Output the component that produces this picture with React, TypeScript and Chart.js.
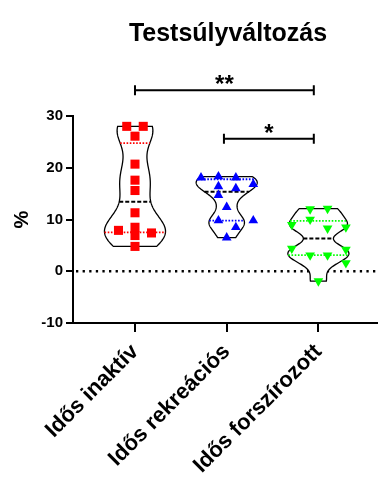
import { useEffect, useRef } from 'react';
import { Chart, registerables } from 'chart.js';

Chart.register(...registerables);

const FONT = "'Liberation Sans', Arial, Helvetica, sans-serif";

const titleText = 'Testsúlyváltozás';
const yAxisTitle = '%';
const categories = ['Idős inaktív', 'Idős rekreációs', 'Idős forszírozott'];
const yTicks = [-10, 0, 10, 20, 30];

// Idős inaktív (red squares)
const inaktivValues = [28.0, 28.0, 26.1, 20.7, 17.6, 15.6, 11.3, 7.9, 8.5, 6.9, 7.4, 4.8];
const inaktivJitter = [-0.09, 0.09, 0, 0, 0, 0, 0, -0.18, 0, 0, 0.18, 0];

// Idős rekreációs (blue triangles)
const rekreaciosValues = [18.1, 18.3, 18.1, 16.8, 16.4, 16.0, 14.7, 12.4, 9.8, 9.8, 8.5, 6.5];
const rekreaciosJitter = [-0.28, -0.09, 0.1, 0.29, -0.09, 0.1, -0.09, 0, -0.09, 0.29, 0.1, 0];

// Idős forszírozott (green inverted triangles)
const forszirozottValues = [12.0, 12.1, 9.0, 10.0, 8.3, 8.5, 4.4, 3.1, 3.1, 4.2, 1.6, -1.9];
const forszirozottJitter = [-0.09, 0.1, -0.29, -0.09, 0.1, 0.3, -0.29, -0.09, 0.1, 0.3, 0.3, 0];

// significance brackets (category units / value units)
const bracketFrom = [0, 0.97];
const bracketTo = [1.95, 1.95];
const bracketLevel = [35, 25.6];
const bracketLabels = ['**', '*'];

const groups = [
  { values: inaktivValues, jitter: inaktivJitter, color: '#ff0000', style: 'rect', radius: 6.4, rotation: 0 },
  { values: rekreaciosValues, jitter: rekreaciosJitter, color: '#0000ff', style: 'triangle', radius: 5.6, rotation: 0 },
  { values: forszirozottValues, jitter: forszirozottJitter, color: '#00ff00', style: 'triangle', radius: 5.6, rotation: 180 },
];

const VIOLIN_HALF = 0.333; // max half width in category units
const BW_FACTOR = 0.34;

function stdev(a: number[]) {
  const m = a.reduce((s, v) => s + v, 0) / a.length;
  return Math.sqrt(a.reduce((s, v) => s + (v - m) * (v - m), 0) / (a.length - 1));
}
function kde(a: number[], h: number, t: number) {
  return a.reduce((s, v) => s + Math.exp(-((t - v) * (t - v)) / (2 * h * h)), 0);
}
function percentile(a: number[], p: number) {
  const s = [...a].sort((x, y) => x - y);
  const pos = (s.length + 1) * p - 1;
  const lo = Math.max(0, Math.min(s.length - 1, Math.floor(pos)));
  const hi = Math.min(s.length - 1, lo + 1);
  const f = pos - Math.floor(pos);
  return s[lo] + (s[hi] - s[lo]) * f;
}

const zeroMargins = (s: any, keys: string[]) => {
  keys.forEach((k) => {
    s['padding' + k[0].toUpperCase() + k.slice(1)] = 0;
    if (s._margins) s._margins[k] = 0;
  });
};

const violinPlugin = {
  id: 'violinPlugin',
  beforeDatasetsDraw(chart: any) {
    const { ctx, chartArea: ca, scales } = chart;
    const xs = scales.x;
    const ys = scales.y;
    ctx.save();
    // zero line
    const y0 = ys.getPixelForValue(0);
    ctx.strokeStyle = '#000';
    ctx.lineWidth = 2.3;
    ctx.setLineDash([2.3, 4.3]);
    ctx.beginPath();
    ctx.moveTo(ca.left + 3, y0);
    ctx.lineTo(ca.right, y0);
    ctx.stroke();
    ctx.setLineDash([]);

    groups.forEach((g, i) => {
      const vals = g.values;
      const min = Math.min(...vals);
      const max = Math.max(...vals);
      const h = BW_FACTOR * stdev(vals);
      const N = 150;
      const prof: number[][] = [];
      for (let k = 0; k <= N; k++) {
        const t = min + ((max - min) * k) / N;
        prof.push([t, kde(vals, h, t)]);
      }
      const dmax = Math.max(...prof.map((p) => p[1]));
      const half = (t: number) => (VIOLIN_HALF * kde(vals, h, t)) / dmax;
      ctx.beginPath();
      prof.forEach(([t, d], k) => {
        const px = xs.getPixelForValue(i - (VIOLIN_HALF * d) / dmax);
        const py = ys.getPixelForValue(t);
        if (k === 0) ctx.moveTo(px, py);
        else ctx.lineTo(px, py);
      });
      for (let k = prof.length - 1; k >= 0; k--) {
        const [t, d] = prof[k];
        ctx.lineTo(xs.getPixelForValue(i + (VIOLIN_HALF * d) / dmax), ys.getPixelForValue(t));
      }
      ctx.closePath();
      ctx.fillStyle = '#fff';
      ctx.fill();
      ctx.strokeStyle = '#000';
      ctx.lineWidth = 1.3;
      ctx.stroke();

      const drawLevel = (v: number, color: string, dash: number[], lw: number) => {
        const w = half(v);
        const py = ys.getPixelForValue(v);
        ctx.strokeStyle = color;
        ctx.lineWidth = lw;
        ctx.setLineDash(dash);
        ctx.beginPath();
        ctx.moveTo(xs.getPixelForValue(i - w), py);
        ctx.lineTo(xs.getPixelForValue(i + w), py);
        ctx.stroke();
        ctx.setLineDash([]);
      };
      drawLevel(percentile(vals, 0.25), g.color, [1.6, 1.6], 1.8);
      drawLevel(percentile(vals, 0.75), g.color, [1.6, 1.6], 1.8);
      drawLevel(percentile(vals, 0.5), '#000', [4, 2], 2);
    });
    ctx.restore();
  },
  afterDraw(chart: any) {
    const { ctx, scales } = chart;
    const xs = scales.x;
    const ys = scales.y;
    ctx.save();
    // title
    ctx.fillStyle = '#000';
    ctx.font = `bold 25px ${FONT}`;
    ctx.textAlign = 'center';
    ctx.textBaseline = 'middle';
    ctx.fillText(titleText, 228, 34);

    // brackets
    bracketLabels.forEach((lab, k) => {
      const x1 = xs.getPixelForValue(bracketFrom[k]);
      const x2 = xs.getPixelForValue(bracketTo[k]);
      const y = ys.getPixelForValue(bracketLevel[k]);
      ctx.strokeStyle = '#000';
      ctx.lineWidth = 2;
      ctx.beginPath();
      ctx.moveTo(x1, y);
      ctx.lineTo(x2, y);
      ctx.moveTo(x1, y - 5);
      ctx.lineTo(x1, y + 5);
      ctx.moveTo(x2, y - 5);
      ctx.lineTo(x2, y + 5);
      ctx.stroke();
      ctx.font = `bold 24px ${FONT}`;
      ctx.textAlign = 'center';
      ctx.textBaseline = 'alphabetic';
      ctx.fillText(lab, (x1 + x2) / 2, y + 2);
    });
    ctx.restore();
  },
};

export default function App() {
  const ref = useRef<HTMLCanvasElement | null>(null);
  useEffect(() => {
    document.body.style.margin = '0';
    const canvas = ref.current;
    if (!canvas) return;
    Chart.defaults.font.family = FONT;
    const chart = new Chart(canvas, {
      type: 'scatter',
      data: {
        datasets: groups.map((g, i) => ({
          label: categories[i],
          data: g.values.map((v, k) => ({ x: i + g.jitter[k], y: v })),
          pointStyle: g.style as any,
          pointRadius: g.radius,
          pointHoverRadius: g.radius,
          pointRotation: g.rotation,
          backgroundColor: g.color,
          borderColor: g.color,
          borderWidth: 0,
          showLine: false,
        })),
      },
      options: {
        responsive: false,
        animation: false,
        devicePixelRatio: 1,
        layout: { autoPadding: false, padding: { top: 116, right: 0, left: 0, bottom: 0 } },
        plugins: {
          legend: { display: false },
          tooltip: { enabled: false },
          title: { display: false },
        },
        scales: {
          x: {
            type: 'linear',
            min: -0.676,
            max: 2.65,
            afterBuildTicks: (s: any) => {
              s.ticks = categories.map((_, i) => ({ value: i }));
            },
            afterFit: (s: any) => {
              s.height = 154;
              zeroMargins(s, ['left', 'right']);
            },
            ticks: {
              callback: (v: any) => categories[v] ?? '',
              autoSkip: false,
              maxRotation: 45,
              minRotation: 45,
              color: '#000',
              padding: 7,
              font: { family: FONT, size: 22, weight: 'bold' },
            },
            grid: { display: true, drawOnChartArea: false, drawTicks: true, tickLength: 9, color: '#000', lineWidth: 2 },
            border: { display: true, color: '#000', width: 2 },
          },
          y: {
            type: 'linear',
            min: -10,
            max: 30,
            afterBuildTicks: (s: any) => {
              s.ticks = yTicks.map((v) => ({ value: v }));
            },
            afterFit: (s: any) => {
              s.width = 73;
              zeroMargins(s, ['top', 'bottom']);
            },
            ticks: { color: '#000', padding: 3, font: { family: FONT, size: 15, weight: 'bold' } },
            grid: { display: true, drawOnChartArea: false, drawTicks: true, tickLength: 7, color: '#000', lineWidth: 2 },
            border: { display: true, color: '#000', width: 2 },
            title: {
              display: true,
              text: yAxisTitle,
              color: '#000',
              font: { family: FONT, size: 20, weight: 'bold' },
              padding: { top: 10, bottom: 0 },
            },
          },
        },
      },
      plugins: [violinPlugin],
    } as any);
    return () => chart.destroy();
  }, []);
  return (
    <div style={{ position: 'absolute', left: 0, top: 0, width: 378, height: 477 }}>
      <canvas ref={ref} width={378} height={477} style={{ display: 'block', width: 378, height: 477 }} />
    </div>
  );
}
